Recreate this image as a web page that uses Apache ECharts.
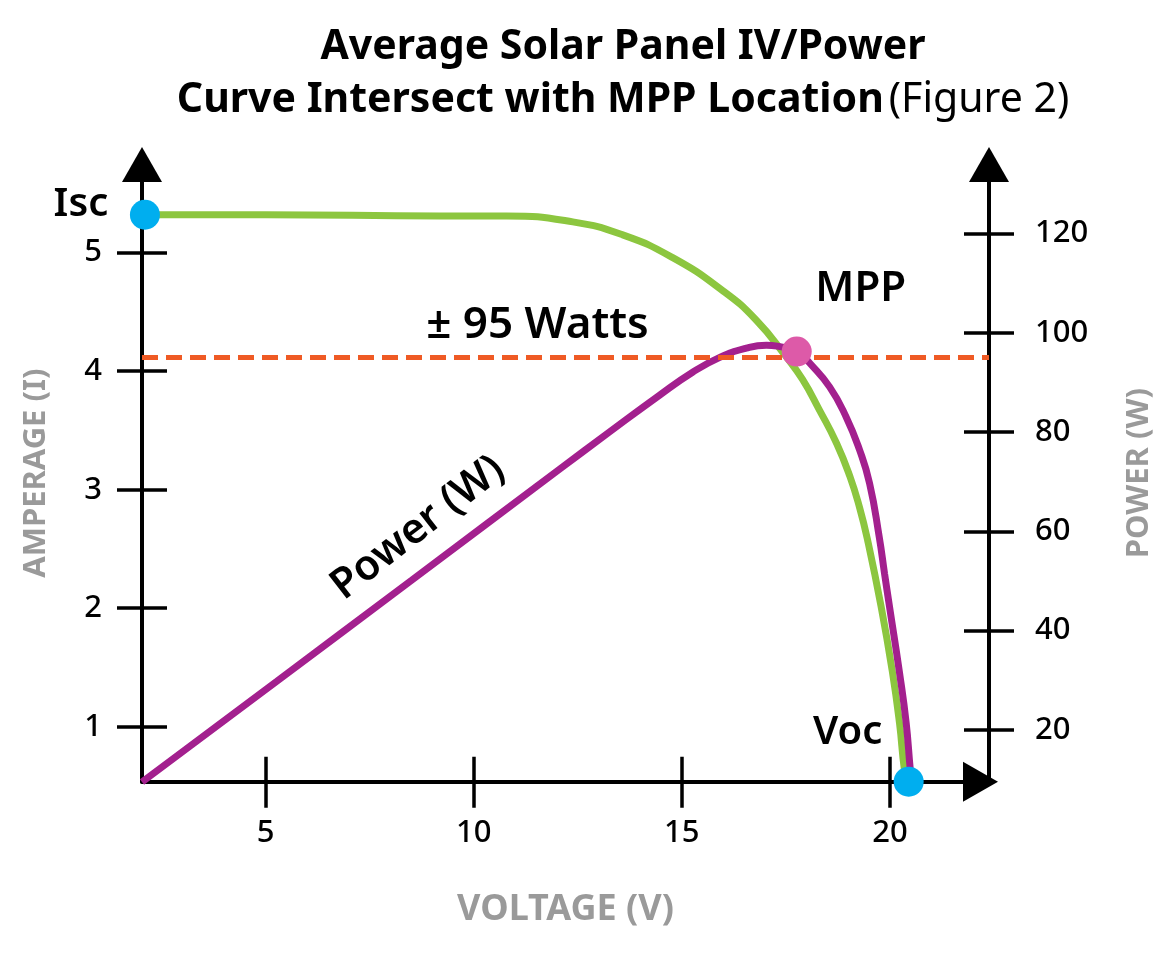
<!DOCTYPE html>
<html>
<head>
<meta charset="utf-8">
<title>Average Solar Panel IV/Power Curve</title>
<script src="https://cdn.jsdelivr.net/npm/echarts@6/dist/echarts.min.js"></script>
<style>
html, body { margin: 0; padding: 0; background: #fff; }
#demo { width: 1173px; height: 960px; }
</style>
</head>
<body>
<div id="demo"></div>
<script>
// tick labels
var voltTicks = [5, 10, 15, 20];
var ampTicks = [1, 2, 3, 4, 5];
var powerTicks = [20, 40, 60, 80, 100, 120];

// IV curve: [voltage, amperage]
var ivCurve = [
    [2.03, 5.32], [5.0, 5.32], [9.18, 5.31], [10.79, 5.31], [12.38, 5.26],
    [13.58, 5.15], [14.77, 4.96], [15.98, 4.68], [16.79, 4.43], [17.51, 4.12],
    [17.90, 3.93], [18.31, 3.67], [18.72, 3.39], [19.04, 3.11], [19.27, 2.85],
    [19.46, 2.58], [19.79, 2.01], [20.06, 1.46], [20.23, 1.03], [20.35, 0.63],
    [20.42, 0.54]
];

// power curve: [voltage, watts]
var powerCurve = [
    [2.03, 9.5], [5.27, 29.8], [8.5, 50.1], [12.06, 72.5], [13.26, 80.0],
    [14.46, 87.4], [15.25, 92.0], [15.90, 95.0], [16.55, 96.9], [17.03, 97.5],
    [17.42, 97.1], [17.76, 96.5], [18.07, 93.9], [18.55, 89.1], [18.95, 83.0],
    [19.27, 76.4], [19.51, 69.7], [19.74, 59.0], [19.87, 51.5], [19.99, 44.8],
    [20.23, 31.5], [20.39, 21.4], [20.49, 11.9], [20.53, 9.5]
];

var iscPoint = [2.10, 5.32];
var vocPoint = [20.45, 0.536];
var mppPoint = [17.76, 96.2];
var wattsLevel = 95;

var font = 'Noto Sans';
var tickStyle = { color: '#000', width: 3.5 };
var labelStyle = { color: '#000', fontSize: 31, fontFamily: font, fontWeight: 500 };
var nameStyle = { color: '#9a9a9a', fontSize: 31, fontFamily: font, fontWeight: 'bold' };

var xRange = { min: 2.03, max: 22.38 };
var ampRange = { min: 0.536, max: 5.744 };
var powerRange = { min: 9.55, max: 133.9 };

function innerTicks(pos, range, ticks) {
    // second axis on the same spot, only to draw the inner half of each tick
    return {
        type: 'value', position: pos, min: range.min, max: range.max,
        axisLine: { show: false },
        axisTick: { show: true, inside: true, length: 25, customValues: ticks, lineStyle: tickStyle },
        axisLabel: { show: false },
        splitLine: { show: false }
    };
}

var option = {
    animation: false,
    title: {
        text: '{b|Average Solar Panel IV/Power}\n{b|Curve Intersect with MPP Location} {n|(Figure 2)}',
        left: 618,
        top: 16,
        textAlign: 'center',
        textStyle: {
            rich: {
                b: { fontFamily: font, fontSize: 41, fontWeight: 'bold', color: '#000', lineHeight: 53 },
                n: { fontFamily: font, fontSize: 41, fontWeight: 'normal', color: '#000', lineHeight: 53 }
            }
        }
    },
    grid: { left: 142, right: 184, top: 164.5, bottom: 178.3, containLabel: false },
    xAxis: [
        {
            type: 'value', position: 'bottom', min: xRange.min, max: xRange.max,
            name: 'VOLTAGE (V)', nameLocation: 'middle', nameGap: 110,
            nameTextStyle: Object.assign({}, nameStyle, { fontSize: 36 }),
            axisLine: {
                show: true, onZero: false, lineStyle: { color: '#000', width: 4 },
                symbol: ['none', 'triangle'], symbolSize: [40, 35], symbolOffset: [0, -8.5]
            },
            axisTick: { show: true, length: 26, customValues: voltTicks, lineStyle: tickStyle },
            axisLabel: Object.assign({ customValues: voltTicks, margin: 36 }, labelStyle),
            splitLine: { show: false }
        },
        innerTicks('bottom', xRange, voltTicks)
    ],
    yAxis: [
        {
            type: 'value', position: 'left', min: ampRange.min, max: ampRange.max,
            name: 'AMPERAGE (I)', nameLocation: 'middle', nameGap: 90, nameRotate: 90, nameTextStyle: nameStyle,
            axisLine: {
                show: true, onZero: false, lineStyle: { color: '#000', width: 4 },
                symbol: ['none', 'triangle'], symbolSize: [40, 35]
            },
            axisTick: { show: true, length: 25, customValues: ampTicks, lineStyle: tickStyle },
            axisLabel: Object.assign({ customValues: ampTicks, margin: 40 }, labelStyle),
            splitLine: { show: false }
        },
        {
            type: 'value', position: 'right', min: powerRange.min, max: powerRange.max,
            name: 'POWER (W)', nameLocation: 'middle', nameGap: 135, nameRotate: 90, nameTextStyle: nameStyle,
            axisLine: {
                show: true, onZero: false, lineStyle: { color: '#000', width: 4 },
                symbol: ['none', 'triangle'], symbolSize: [40, 35]
            },
            axisTick: { show: true, length: 25, customValues: powerTicks, lineStyle: tickStyle },
            axisLabel: Object.assign({ customValues: powerTicks, margin: 46 }, labelStyle),
            splitLine: { show: false }
        },
        innerTicks('left', ampRange, ampTicks),
        innerTicks('right', powerRange, powerTicks)
    ],
    series: [
        {
            name: 'IV', type: 'line', xAxisIndex: 0, yAxisIndex: 0,
            data: ivCurve, showSymbol: false, smooth: 0.5,
            lineStyle: { color: '#8cc63f', width: 7 },
            emphasis: { disabled: true }, z: 2
        },
        {
            name: 'Power', type: 'line', xAxisIndex: 0, yAxisIndex: 1,
            data: powerCurve, showSymbol: false, smooth: 0.5,
            lineStyle: { color: '#a3208e', width: 7 },
            emphasis: { disabled: true }, z: 3,
            markLine: {
                silent: true, symbol: ['none', 'none'], z: 4,
                lineStyle: { color: '#ef5a24', width: 5, type: [16, 8] },
                label: {
                    show: true, position: 'insideMiddleTop', distance: 10,
                    padding: [0, 56, 0, 0],
                    formatter: '\u00b1 ' + wattsLevel + ' Watts',
                    color: '#000', fontSize: 44, fontFamily: font, fontWeight: 600
                },
                data: [{ yAxis: wattsLevel }]
            }
        },
        {
            name: 'Isc', type: 'scatter', xAxisIndex: 0, yAxisIndex: 0,
            data: [iscPoint], symbolSize: 30, clip: false, z: 5,
            itemStyle: { color: '#00aeef', opacity: 1 },
            label: {
                show: true, position: 'inside', offset: [-64, -10], formatter: 'Isc',
                color: '#000', fontSize: 40, fontFamily: font, fontWeight: 600
            },
            emphasis: { disabled: true }
        },
        {
            name: 'Voc', type: 'scatter', xAxisIndex: 0, yAxisIndex: 0,
            data: [vocPoint], symbolSize: 30, clip: false, z: 5,
            itemStyle: { color: '#00aeef', opacity: 1 },
            label: {
                show: true, position: 'inside', offset: [-61, -49], formatter: 'Voc',
                color: '#000', fontSize: 40, fontFamily: font, fontWeight: 600
            },
            emphasis: { disabled: true }
        },
        {
            name: 'MPP', type: 'scatter', xAxisIndex: 0, yAxisIndex: 1,
            data: [mppPoint], symbolSize: 30, clip: false, z: 5,
            itemStyle: { color: '#dd5aa8', opacity: 1 },
            label: {
                show: true, position: 'inside', offset: [64, -63], formatter: 'MPP',
                color: '#000', fontSize: 42, fontFamily: font, fontWeight: 600
            },
            emphasis: { disabled: true }
        }
    ],
    graphic: [
        {
            type: 'text', x: 418, y: 528, rotation: 0.66, z: 10,
            style: {
                text: 'Power (W)', align: 'center', verticalAlign: 'middle',
                fontSize: 42, fontFamily: font, fontWeight: 600, fill: '#000'
            }
        }
    ]
};

var myChart = echarts.init(document.getElementById('demo'));
myChart.setOption(option);
</script>
</body>
</html>
